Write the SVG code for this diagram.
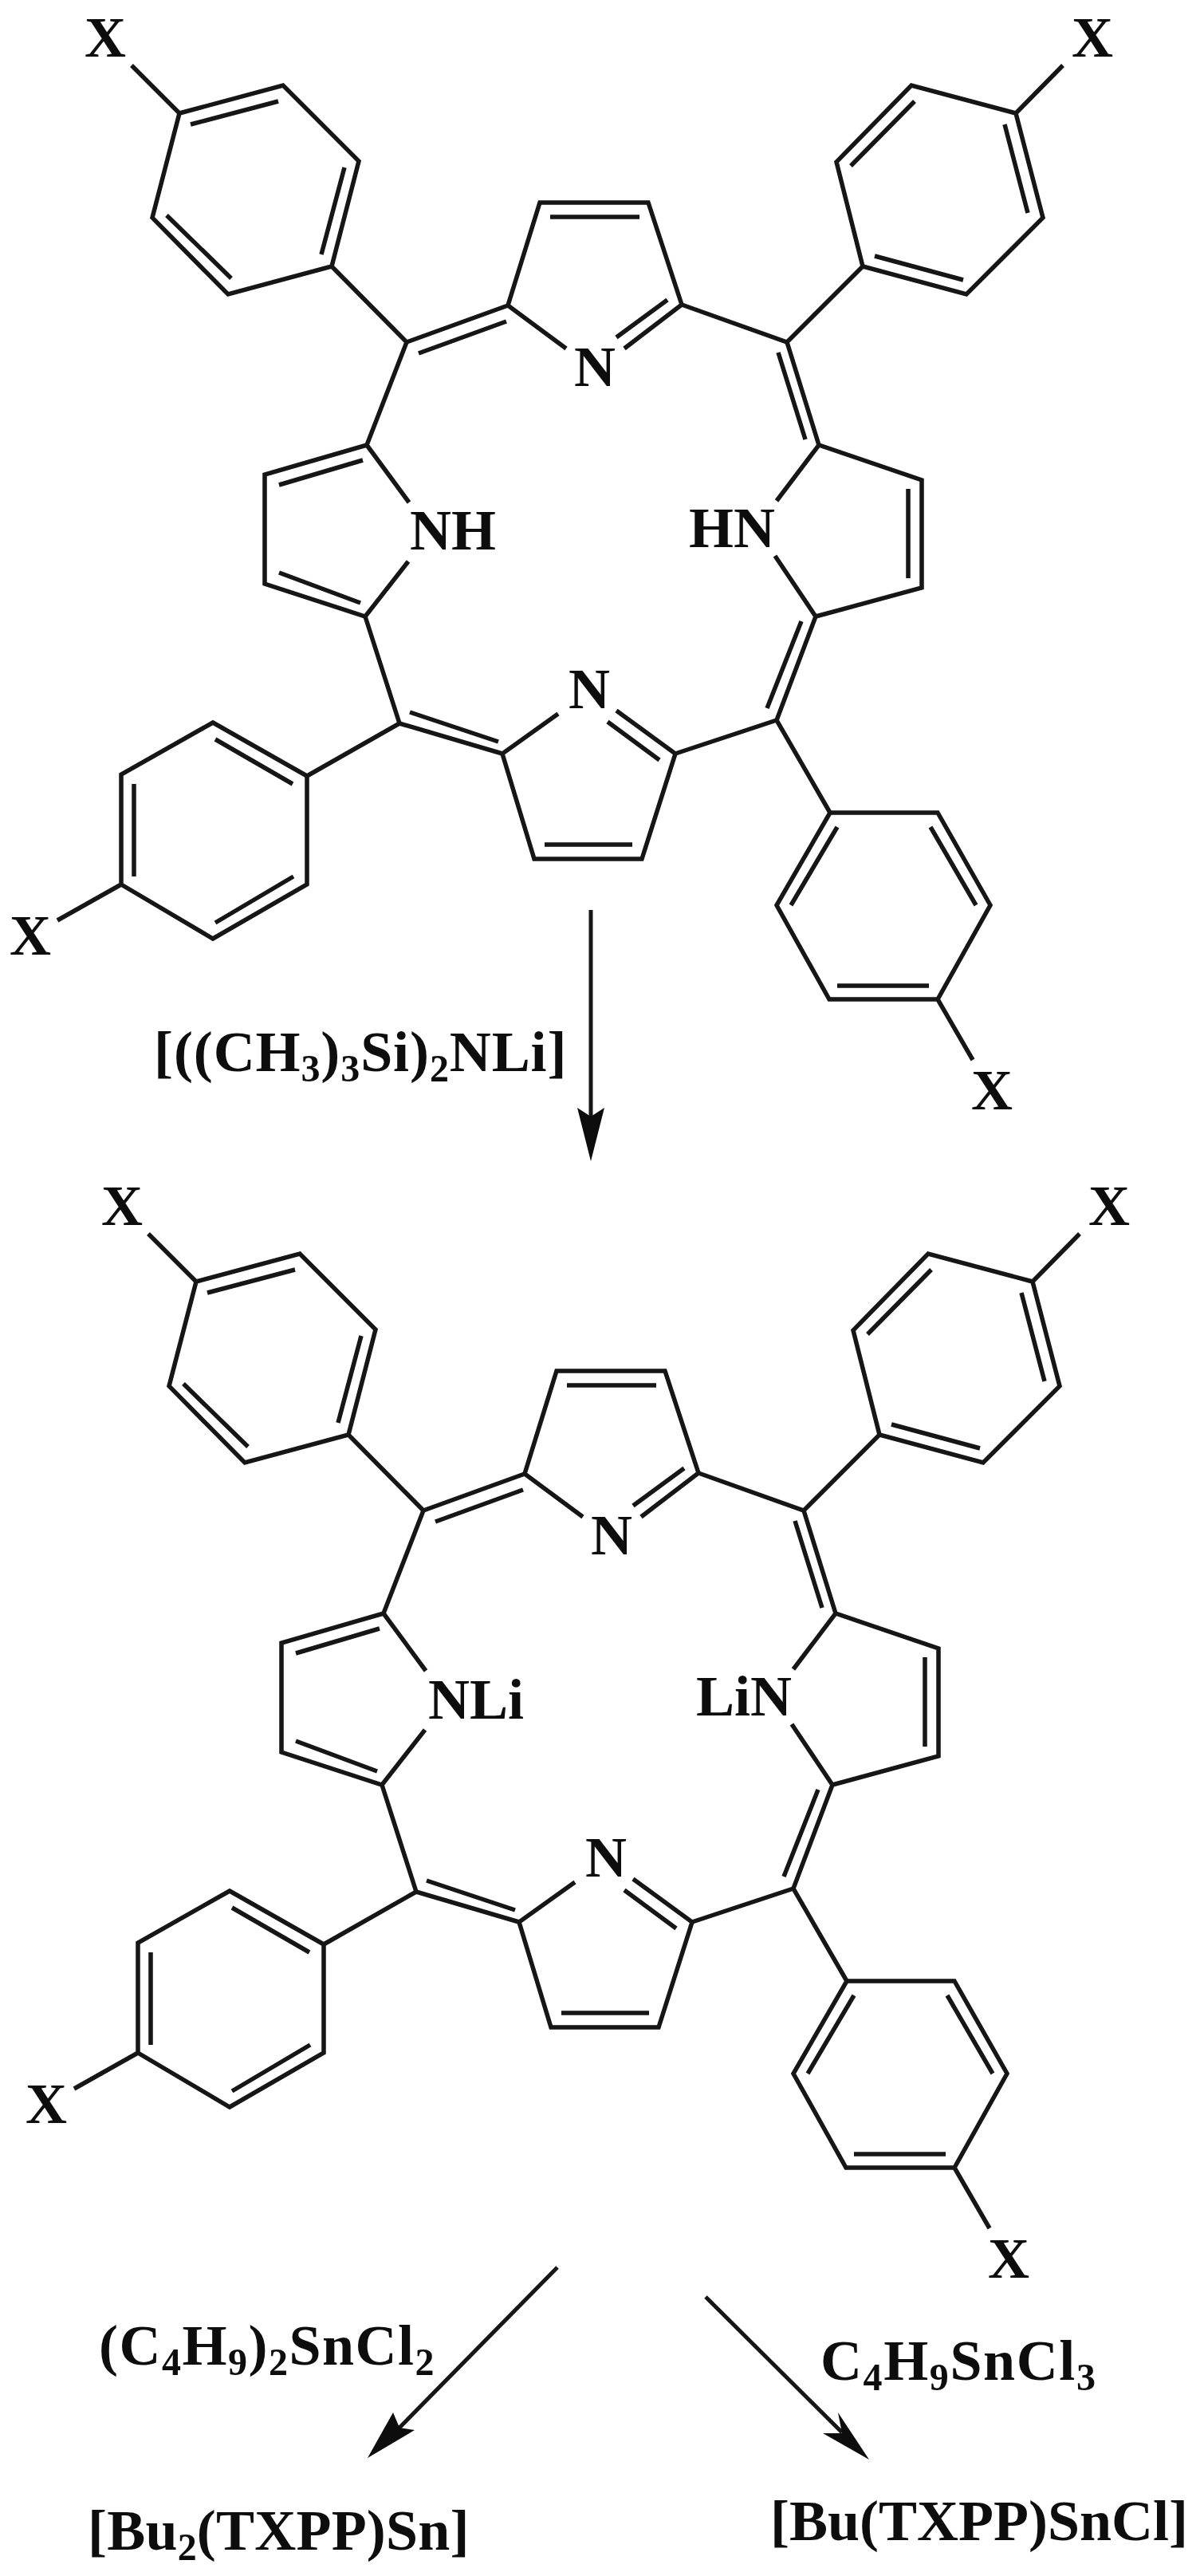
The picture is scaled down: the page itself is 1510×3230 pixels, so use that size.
<svg xmlns="http://www.w3.org/2000/svg" xmlns:xlink="http://www.w3.org/1999/xlink" width="1510" height="3230" viewBox="0 0 1510 3230">
<style>
.b{fill:none;stroke:#141414;stroke-width:5.5;stroke-linejoin:miter;stroke-linecap:butt}
.a{fill:none;stroke:#141414;stroke-width:5}
.h{fill:#0a0a0a;stroke:none}
text{font-family:"Liberation Serif","Times New Roman",serif;font-weight:bold;font-size:72px;fill:#111}
.s{font-size:48px}
</style>
<defs>
<filter id="soft" x="0" y="0" width="1510" height="3230" filterUnits="userSpaceOnUse"><feGaussianBlur stdDeviation="0.7"/></filter>
<g id="skeleton">
<path class="b" d="M225 142L355 107L450 202L416 334L286 369L191 273ZM239 156L349 127M432 210L403 319M209 270L290 349M225 142L165 82M416 334L510 429"/>
<path class="b" d="M510 429L637 383M525 443L635 403M710 437L637 383L677 254H813L855 382L783 437M690 272H802M773 423L837 376"/>
<path class="b" d="M855 382L987 429L1082 334M1274 142L1143 107L1049 203L1082 334L1212 369L1308 273ZM1147 127L1067 208M1260 156L1289 267M1097 321L1208 351M1274 142L1333 82"/>
<path class="b" d="M987 429L1027 558M976 442L1010 551M974 628L1027 558L1156 602V737L1023 773L972 697M1139 613V725M1023 773L974 903M1005 779L962 888"/>
<path class="b" d="M847 945L974 903L1041 1019M1041 1019H1176L1242 1135L1176 1253H1040L974 1135ZM1050 1037L992 1135M1167 1037L1224 1135M1050 1236H1165M1176 1253L1220 1329"/>
<path class="b" d="M773 891L847 945L805 1077H670L630 945L700 895M827 953L762 905M683 1059H793"/>
<path class="b" d="M630 945L501 907L385 973M514 893L625 930M385 973L267 906L152 971V1109L267 1177L385 1109ZM270 927L367 983M168 983V1099M270 1157L368 1099M152 1109L72 1154"/>
<path class="b" d="M501 907L458 773M513 630L460 558L332 595V732L458 773L512 704M350 608L455 577M350 718L452 756M460 558L510 429"/>
</g>
</defs>
<rect width="1510" height="3230" fill="#fff"/>
<g filter="url(#soft)">
<g id="connectors">
<g id="arrow-1"><path class="a" d="M741 1141V1400"/><polygon class="h" points="741,1456 724,1389 741,1400 758,1389"/></g>
<g id="arrow-2"><path class="a" d="M699 2843L500 3045"/><polygon class="h" points="461,3082 493,3025 501,3044 520,3047"/></g>
<g id="arrow-3"><path class="a" d="M885 2880L1056 3050"/><polygon class="h" points="1090,3084 1032,3051 1056,3051 1051,3025"/></g>
</g>
<g id="molecule-top">
<use href="#skeleton" xlink:href="#skeleton"/>
<text x="106" y="71">X</text>
<text x="1344" y="71">X</text>
<text x="12" y="1197">X</text>
<text x="1218" y="1391">X</text>
<text x="720" y="484">N</text>
<text x="713" y="888">N</text>
<text x="514" y="689">NH</text>
<text x="864" y="686">HN</text>
</g>
<g id="molecule-bottom">
<use href="#skeleton" xlink:href="#skeleton" transform="translate(21 1465)"/>
<text x="127" y="1536">X</text>
<text x="1365" y="1536">X</text>
<text x="32" y="2662">X</text>
<text x="1239" y="2856">X</text>
<text x="741" y="1949">N</text>
<text x="734" y="2353">N</text>
<text x="537" y="2155">NLi</text>
<text x="873" y="2151">LiN</text>
</g>
<g id="label-lithium"><text x="193" y="1343" letter-spacing="0.9">[((CH<tspan class="s" dy="13">3</tspan><tspan dy="-13">)</tspan><tspan class="s" dy="13">3</tspan><tspan dy="-13">Si)</tspan><tspan class="s" dy="13">2</tspan><tspan dy="-13">NLi]</tspan></text></g>
<g id="label-dibutyl"><text x="124" y="2965" letter-spacing="1.5">(C<tspan class="s" dy="13">4</tspan><tspan dy="-13">H</tspan><tspan class="s" dy="13">9</tspan><tspan dy="-13">)</tspan><tspan class="s" dy="13">2</tspan><tspan dy="-13">SnCl</tspan><tspan class="s" dy="13">2</tspan></text></g>
<g id="label-butyl"><text x="1029" y="2984" letter-spacing="1.6">C<tspan class="s" dy="13">4</tspan><tspan dy="-13">H</tspan><tspan class="s" dy="13">9</tspan><tspan dy="-13">SnCl</tspan><tspan class="s" dy="13">3</tspan></text></g>
<g id="product-dibutyl"><text x="110" y="3197" letter-spacing="0.2">[Bu<tspan class="s" dy="13">2</tspan><tspan dy="-13">(TXPP)Sn]</tspan></text></g>
<g id="product-butyl"><text x="966" y="3185">[Bu(TXPP)SnCl]</text></g>
</g>
</svg>
